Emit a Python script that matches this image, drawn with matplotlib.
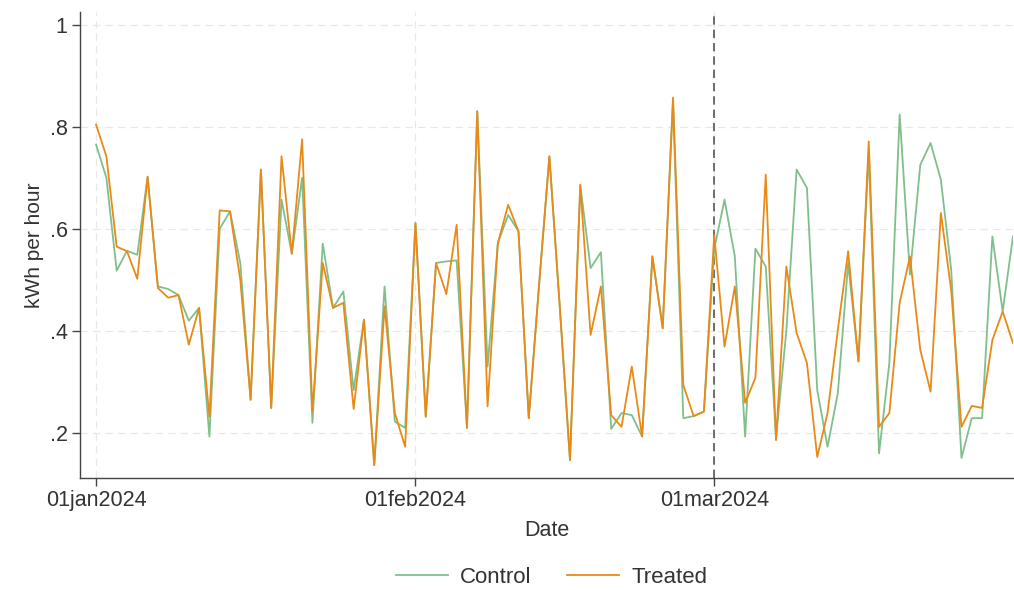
import numpy as np
import pandas as pd
import matplotlib
matplotlib.use("Agg")
import matplotlib.pyplot as plt
import matplotlib.dates as mdates
from matplotlib.ticker import FuncFormatter

plt.rcParams['font.family'] = ['Liberation Sans', 'DejaVu Sans']

# daily series, 01jan2024 .. 30mar2024
dates = pd.date_range('2024-01-01', periods=90, freq='D')

control = [0.765, 0.70, 0.518, 0.557, 0.549, 0.702, 0.487, 0.482, 0.47, 0.42,
           0.445, 0.193, 0.60, 0.634, 0.533, 0.265, 0.716, 0.249, 0.657, 0.551,
           0.70, 0.22, 0.571, 0.445, 0.477, 0.284, 0.422, 0.137, 0.487, 0.222,
           0.21,
           0.611, 0.232, 0.533, 0.536, 0.538, 0.21, 0.83, 0.33, 0.572, 0.627,
           0.595, 0.229, 0.49, 0.742, 0.45, 0.147,
           0.686, 0.523, 0.554, 0.208, 0.239, 0.235, 0.193, 0.546, 0.405, 0.85,
           0.229, 0.233, 0.242,
           0.56, 0.657, 0.546, 0.193, 0.561, 0.526, 0.19, 0.40, 0.716, 0.68,
           0.284, 0.173, 0.278, 0.533, 0.34, 0.75, 0.16,
           0.337, 0.824, 0.51, 0.725, 0.768, 0.696, 0.52, 0.151, 0.229, 0.229,
           0.585, 0.438, 0.585]

treated = [0.804, 0.742, 0.565, 0.556, 0.502, 0.702, 0.484, 0.465, 0.47, 0.373,
           0.445, 0.232, 0.636, 0.634, 0.50, 0.265, 0.716, 0.249, 0.742, 0.551,
           0.775, 0.242, 0.533, 0.445, 0.455, 0.247, 0.422, 0.137, 0.448, 0.239,
           0.173,
           0.611, 0.232, 0.533, 0.472, 0.608, 0.21, 0.83, 0.252, 0.572, 0.647,
           0.595, 0.229, 0.49, 0.742, 0.45, 0.147,
           0.686, 0.392, 0.487, 0.235, 0.212, 0.33, 0.193, 0.546, 0.405, 0.857,
           0.294, 0.233, 0.242,
           0.588, 0.369, 0.487, 0.259, 0.308, 0.706, 0.186, 0.526, 0.396, 0.337,
           0.153, 0.239, 0.402, 0.556, 0.34, 0.771, 0.212,
           0.239, 0.455, 0.546, 0.363, 0.281, 0.631, 0.48, 0.212, 0.253, 0.249,
           0.382, 0.438, 0.376]

yticks = [0.2, 0.4, 0.6, 0.8, 1.0]
ytick_labels = ['.2', '.4', '.6', '.8', '1']
xticks = pd.to_datetime(['2024-01-01', '2024-02-01', '2024-03-01'])
treat_start = pd.Timestamp('2024-03-01')

green = '#80bf8c'
orange = '#e98a17'
txt = '#333333'

fig = plt.figure(figsize=(10.14, 5.9), dpi=100)
ax = fig.add_axes([0.079, 0.19, 0.92, 0.79])

ax.plot(dates, control, color=green, lw=1.3, label='Control', zorder=3)
ax.plot(dates, treated, color=orange, lw=1.3, label='Treated', zorder=4)
ax.axvline(treat_start, color='#555555', lw=1.2, ls=(0, (5, 3)), zorder=2)

ax.set_ylim(0.112, 1.025)
ax.set_xlim(dates[0] - pd.Timedelta(days=1.55), dates[-1])
ax.set_yticks(yticks)
ax.set_yticklabels(ytick_labels)
ax.set_xticks(xticks)
ax.xaxis.set_major_formatter(FuncFormatter(
    lambda v, p: mdates.num2date(v).strftime('%d%b%Y').lower()))

ax.grid(True, color='#e8e8e8', lw=0.9, ls=(0, (6, 4)), zorder=0)
for s in ['top', 'right']:
    ax.spines[s].set_visible(False)
for s in ['left', 'bottom']:
    ax.spines[s].set_color('#444444')
    ax.spines[s].set_linewidth(1.0)
ax.tick_params(axis='both', direction='out', length=6, width=1.0,
               color='#444444', labelsize=15.5, labelcolor=txt)
ax.tick_params(axis='y', pad=3)
ax.tick_params(axis='x', pad=3)

ax.set_ylabel('kWh per hour', fontsize=15, color=txt, labelpad=4)
ax.set_xlabel('Date', fontsize=15.5, color=txt, labelpad=6)

fig.legend(loc='center', bbox_to_anchor=(0.544, 0.022), ncol=2,
           frameon=False, fontsize=16, handlelength=2.35, handletextpad=0.55,
           columnspacing=1.6, labelcolor=txt)

fig.savefig('out.png', dpi=100)
